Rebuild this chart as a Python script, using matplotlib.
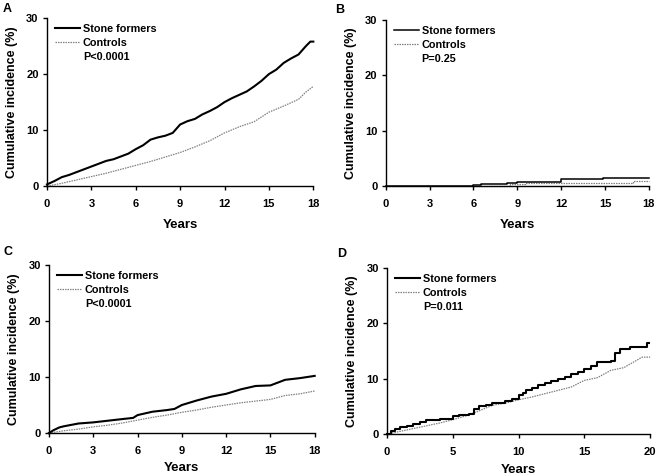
import matplotlib
matplotlib.use("Agg")
import matplotlib.pyplot as plt
from matplotlib.lines import Line2D

plt.rcParams['font.family'] = ['Liberation Sans', 'DejaVu Sans']
plt.rcParams['font.weight'] = 'bold'

# Panel A
a_sf_x = [0, 0.5, 1, 1.5, 2, 2.5, 3, 3.5, 4, 4.5, 5, 5.5, 6, 6.5, 7, 7.5, 8, 8.5, 9, 9.5, 10, 10.5, 11, 11.5, 12, 12.5, 13, 13.5, 14, 14.5, 15, 15.5, 16, 16.5, 17, 17.5, 17.8, 18]
a_sf_y = [0.3, 0.9, 1.6, 2.0, 2.5, 3.0, 3.5, 4.0, 4.5, 4.8, 5.3, 5.8, 6.6, 7.3, 8.3, 8.7, 9.0, 9.5, 11.0, 11.6, 12.0, 12.8, 13.4, 14.1, 15.0, 15.7, 16.3, 16.9, 17.8, 18.8, 20.0, 20.8, 22.0, 22.8, 23.5, 25.0, 25.8, 25.8]
a_ct_x = [0, 1, 2, 3, 4, 5, 6, 7, 8, 9, 10, 11, 12, 13, 14, 15, 16, 17, 17.5, 18]
a_ct_y = [0.0, 0.5, 1.1, 1.7, 2.3, 3.0, 3.7, 4.4, 5.2, 6.0, 7.0, 8.1, 9.5, 10.6, 11.5, 13.2, 14.3, 15.5, 16.8, 17.8]

# Panel B
b_sf_x = [0, 5, 6, 6.5, 7.5, 8.3, 9, 12, 14.9, 18]
b_sf_y = [0.0, 0.1, 0.2, 0.3, 0.4, 0.6, 0.8, 1.2, 1.4, 1.4]
b_ct_x = [0, 8.5, 9.5, 14.8, 16.9, 18]
b_ct_y = [0.0, 0.3, 0.5, 0.6, 0.9, 0.9]

# Panel C
c_sf_x = [0, 0.3, 0.7, 1, 2, 3, 4, 5, 5.7, 6, 7, 8, 8.5, 9, 10, 11, 12, 13, 14, 15, 15.5, 16, 17, 18]
c_sf_y = [0.0, 0.5, 1.0, 1.2, 1.7, 1.9, 2.2, 2.5, 2.7, 3.2, 3.8, 4.1, 4.3, 5.0, 5.8, 6.5, 7.0, 7.8, 8.4, 8.5, 9.0, 9.5, 9.8, 10.2]
c_ct_x = [0, 1, 2, 3, 4, 5, 6, 7, 8, 9, 10, 11, 12, 13, 14, 15, 16, 17, 18]
c_ct_y = [0.0, 0.4, 0.7, 1.1, 1.4, 1.8, 2.3, 2.8, 3.2, 3.7, 4.1, 4.6, 5.0, 5.4, 5.7, 6.0, 6.7, 7.0, 7.5]

# Panel D
d_sf_x = [0, 0.3, 0.6, 1, 1.5, 2, 2.5, 3, 4, 5, 5.5, 6.2, 6.6, 7, 7.5, 8, 9, 9.5, 10, 10.3, 10.6, 11, 11.5, 12, 12.5, 13, 13.5, 14, 14.5, 15, 15.5, 16, 17, 17.3, 17.7, 18.5, 19.75, 19.9]
d_sf_y = [0.0, 0.5, 1.0, 1.3, 1.5, 1.9, 2.2, 2.6, 2.8, 3.2, 3.4, 3.7, 4.5, 5.0, 5.3, 5.7, 6.0, 6.4, 7.0, 7.5, 8.0, 8.4, 8.9, 9.2, 9.6, 10.0, 10.4, 10.8, 11.3, 11.8, 12.3, 13.0, 13.2, 14.7, 15.3, 15.8, 16.5, 16.5]
d_ct_x = [0, 1, 2, 3, 4, 5, 6, 7, 8, 9, 10, 11, 12, 13, 14, 15, 16, 17, 18, 19.4, 20]
d_ct_y = [0.0, 0.5, 1.0, 1.5, 2.0, 2.6, 3.3, 4.2, 5.2, 5.6, 6.2, 6.7, 7.3, 7.9, 8.5, 9.7, 10.2, 11.5, 12.0, 13.9, 13.9]

panels = [
    ("A", a_sf_x, a_sf_y, a_ct_x, a_ct_y, "P<0.0001", 18, [0, 3, 6, 9, 12, 15, 18], 'default', 'default', 1.5, 7.5),
    ("B", b_sf_x, b_sf_y, b_ct_x, b_ct_y, "P=0.25", 18, [0, 3, 6, 9, 12, 15, 18], 'steps-post', 'steps-post', 1.1, 7.5),
    ("C", c_sf_x, c_sf_y, c_ct_x, c_ct_y, "P<0.0001", 18, [0, 3, 6, 9, 12, 15, 18], 'default', 'default', 1.5, 5),
    ("D", d_sf_x, d_sf_y, d_ct_x, d_ct_y, "P=0.011", 20, [0, 5, 10, 15, 20], 'steps-post', 'default', 1.5, 5),
]
rects = [
    [0.0716, 0.609, 0.406, 0.353],
    [0.588, 0.609, 0.401, 0.349],
    [0.0747, 0.0903, 0.405, 0.353],
    [0.590, 0.088, 0.401, 0.349],
]
letter_pos = [(3 / 656, 1 - 3 / 476), (335 / 656, 1 - 4 / 476), (3 / 656, 1 - 246 / 476), (337 / 656, 1 - 248 / 476)]

fig = plt.figure(figsize=(6.56, 4.76), dpi=100)
for (letter, sx, sy, cx, cy, ptxt, xmax, xt, ds_s, ds_c, lw, xlp), rect, lp in zip(panels, rects, letter_pos):
    ax = fig.add_axes(rect)
    ax.plot(cx, cy, drawstyle=ds_c, color='#808080', lw=0.9, ls=(0, (1.2, 0.8)), clip_on=False)
    ax.plot(sx, sy, drawstyle=ds_s, color='black', lw=lw, clip_on=False)
    ax.set_xlim(0, xmax)
    ax.set_ylim(0, 30)
    ax.set_xticks(xt)
    ax.set_yticks([0, 10, 20, 30])
    for s in ['top', 'right']:
        ax.spines[s].set_visible(False)
    for s in ['left', 'bottom']:
        ax.spines[s].set_linewidth(1.0)
    ax.tick_params(direction='out', length=3, width=1.0, labelsize=8)
    ax.tick_params(axis='x', pad=6)
    ax.tick_params(axis='y', pad=3)
    for lab in ax.get_xticklabels() + ax.get_yticklabels():
        lab.set_fontweight('bold')
    ax.set_xlabel('Years', fontsize=9.5, fontweight='bold', labelpad=xlp)
    ax.set_ylabel('Cumulative incidence (%)', fontsize=9, fontweight='bold', labelpad=6)
    handles = [Line2D([], [], color='black', lw=lw),
               Line2D([], [], color='#808080', lw=0.9, ls=(0, (1.2, 0.8))),
               Line2D([], [], color='none')]
    ax.legend(handles, ['Stone formers', 'Controls', ptxt], loc='upper left',
              bbox_to_anchor=(0.015, 0.99), frameon=False, handlelength=2.3,
              handletextpad=0.25, labelspacing=0.35, borderaxespad=0.0,
              prop={'weight': 'bold', 'size': 7.8})
    fig.text(lp[0], lp[1], letter, fontsize=9, fontweight='bold', va='top', ha='left')

fig.savefig('out.png', dpi=100)
